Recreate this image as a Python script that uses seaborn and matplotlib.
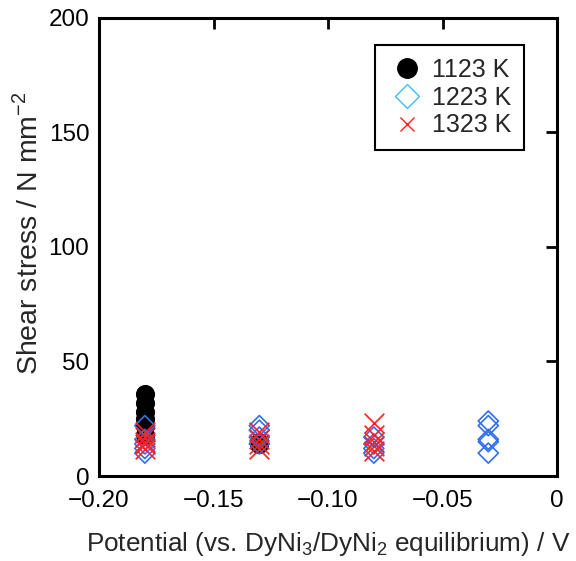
import matplotlib
matplotlib.use("Agg")
import matplotlib.pyplot as plt
import seaborn as sns
import pandas as pd
from matplotlib.lines import Line2D

sns.set_style("white")
plt.rcParams['font.family'] = ['Liberation Sans', 'DejaVu Sans']
plt.rcParams['mathtext.fontset'] = 'custom'
plt.rcParams['mathtext.rm'] = 'Liberation Sans'

# data
x_1123 = [-0.18, -0.18, -0.18, -0.18, -0.18, -0.18, -0.13, -0.13]
y_1123 = [36, 32, 28, 25, 22, 18, 14, 15]
x_1223 = [-0.18, -0.18, -0.18, -0.18, -0.18, -0.13, -0.13, -0.13, -0.13,
          -0.08, -0.08, -0.08, -0.08, -0.03, -0.03, -0.03, -0.03, -0.03]
y_1223 = [22, 16, 14, 12, 10, 22, 20, 17, 14,
          17, 14, 12, 10, 24, 22, 16, 15, 10]
x_1323 = [-0.18, -0.18, -0.18, -0.18, -0.18, -0.13, -0.13, -0.13, -0.13,
          -0.08, -0.08, -0.08, -0.08, -0.08]
y_1323 = [19, 17, 15, 14, 12, 19, 16, 14, 12,
          23, 18, 15, 13, 11]
labels = ["1123 K", "1223 K", "1323 K"]
xticks = [-0.20, -0.15, -0.10, -0.05, 0]
xticklabels = ["\u22120.20", "\u22120.15", "\u22120.10", "\u22120.05", "0"]
yticks = [0, 50, 100, 150, 200]

fig = plt.figure(figsize=(5.76, 5.61), dpi=100)
ax = fig.add_axes([0.172, 0.1515, 0.795, 0.8165])

df1 = pd.DataFrame({"x": x_1123, "y": y_1123})
df2 = pd.DataFrame({"x": x_1223, "y": y_1223})
df3 = pd.DataFrame({"x": x_1323, "y": y_1323})

sns.scatterplot(data=df1, x="x", y="y", ax=ax, marker="o", s=190,
                color="black", edgecolor="black", linewidth=0, zorder=2)
sns.scatterplot(data=df2, x="x", y="y", ax=ax, marker="D", s=105,
                facecolor="none", edgecolor="#2f6ff0", linewidth=1.2, zorder=3)
sns.scatterplot(data=df3, x="x", y="y", ax=ax, marker="x", s=200,
                color="#ff2020", linewidth=1.2, zorder=4)

ax.set_xlim(-0.2, 0)
ax.set_ylim(0, 200)
ax.set_xticks(xticks)
ax.set_xticklabels(xticklabels)
ax.set_yticks(yticks)
ax.tick_params(direction="in", length=8, width=2, top=True, right=True,
               labelsize=17.5, colors="black")
ax.tick_params(axis="x", pad=10)
ax.tick_params(axis="y", pad=7)
for sp in ax.spines.values():
    sp.set_linewidth(2.2)
    sp.set_color("black")

ax.set_xlabel("Potential (vs. DyNi$_3$/DyNi$_2$ equilibrium) / V", fontsize=18.8, labelpad=13)
ax.set_ylabel("Shear stress / N mm$^{\u22122}$", fontsize=20.5, labelpad=4, y=0.53)

handles = [
    Line2D([], [], marker="o", linestyle="none", markersize=14, color="black"),
    Line2D([], [], marker="D", linestyle="none", markersize=12, markerfacecolor="none",
           markeredgecolor="#3cbcf0", markeredgewidth=1.0),
    Line2D([], [], marker="x", linestyle="none", markersize=10, color="#ff2020",
           markeredgewidth=1.0),
]
leg = ax.legend(handles, labels, loc="upper right", bbox_to_anchor=(0.928, 0.94),
                fontsize=18, frameon=True, fancybox=False, framealpha=1,
                edgecolor="black", handletextpad=0.2, borderpad=0.5,
                labelspacing=0.15, handlelength=1.6, borderaxespad=0)
leg.get_frame().set_linewidth(1.5)

fig.savefig("out.png", dpi=100)
